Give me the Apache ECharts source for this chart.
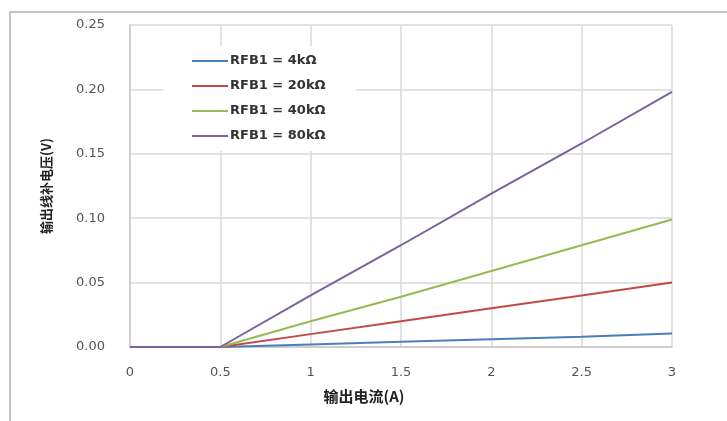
<!DOCTYPE html>
<html>
<head>
<meta charset="utf-8">
<script src="https://cdn.jsdelivr.net/npm/echarts@6/dist/echarts.min.js"></script>
<style>html,body{margin:0;padding:0;background:#fff;}#c{width:727px;height:421px;}</style>
</head>
<body>
<div id="c"></div>
<script>
var xValues = [0, 0.5, 1, 1.5, 2, 2.5, 3];
var seriesNames = ['RFB1 = 4kΩ', 'RFB1 = 20kΩ', 'RFB1 = 40kΩ', 'RFB1 = 80kΩ'];
var r4k  = [0, 0, 0.002, 0.004, 0.006, 0.008, 0.0105];
var r20k = [0, 0, 0.010, 0.020, 0.030, 0.040, 0.050];
var r40k = [0, 0, 0.020, 0.039, 0.059, 0.079, 0.099];
var r80k = [0, 0, 0.040, 0.079, 0.119, 0.158, 0.198];
var colors = ['#4a7ebb', '#be4b48', '#98b954', '#7d60a0'];

function pairs(ys) { return xValues.map(function (x, i) { return [x, ys[i]]; }); }
var allData = [r4k, r20k, r40k, r80k];

var chart = echarts.init(document.getElementById('c'));
chart.setOption({
  animation: false,
  backgroundColor: '#fff',
  graphic: [{
    type: 'rect', silent: true, z: -10,
    shape: { x: 10, y: 12, width: 800, height: 500 },
    style: { fill: 'none', stroke: '#c4c4c4', lineWidth: 2 }
  }],
  grid: { left: 130, right: 55, top: 25, bottom: 74 },
  legend: {
    orient: 'vertical', left: 163, top: 46,
    padding: [8, 30, 8, 29],
    backgroundColor: '#fff',
    icon: 'rect', itemWidth: 36, itemHeight: 2, itemGap: 11,
    textStyle: { fontFamily: 'DejaVu Sans', fontWeight: 'bold', fontSize: 13, color: '#333', lineHeight: 14, padding: [0, 0, 0, -3] },
    data: seriesNames
  },
  xAxis: {
    type: 'value', min: 0, max: 3, interval: 0.5,
    name: '输出电流(A)', nameLocation: 'middle', nameGap: 42,
    nameTextStyle: { fontFamily: 'Noto Sans CJK SC', fontWeight: 'bold', fontSize: 15, color: '#222', padding: [0, 74, 0, 0] },
    axisLine: { show: true, lineStyle: { color: '#c8c8c8', width: 1.5 } },
    axisTick: { show: false },
    axisLabel: { margin: 19, fontFamily: 'DejaVu Sans', fontSize: 13, color: '#555' },
    splitLine: { show: true, lineStyle: { color: '#d9d9d9', width: 1.5 } }
  },
  yAxis: {
    type: 'value', min: 0, max: 0.25, interval: 0.05,
    name: '输出线补电压(V)', nameLocation: 'middle', nameGap: 77,
    nameTextStyle: { fontFamily: 'Noto Sans CJK SC', fontWeight: 'bold', fontSize: 13, color: '#222' },
    axisLine: { show: true, lineStyle: { color: '#c8c8c8', width: 1.5 } },
    axisTick: { show: false },
    axisLabel: { margin: 25, fontFamily: 'DejaVu Sans', fontSize: 13, color: '#555', formatter: function (v) { return v.toFixed(2); } },
    splitLine: { show: true, lineStyle: { color: '#d9d9d9', width: 1.5 } }
  },
  series: allData.map(function (d, i) {
    return {
      name: seriesNames[i], type: 'line', data: pairs(d),
      showSymbol: false, symbol: 'none',
      lineStyle: { color: colors[i], width: 2 },
      itemStyle: { color: colors[i] }
    };
  })
});
</script>
</body>
</html>
